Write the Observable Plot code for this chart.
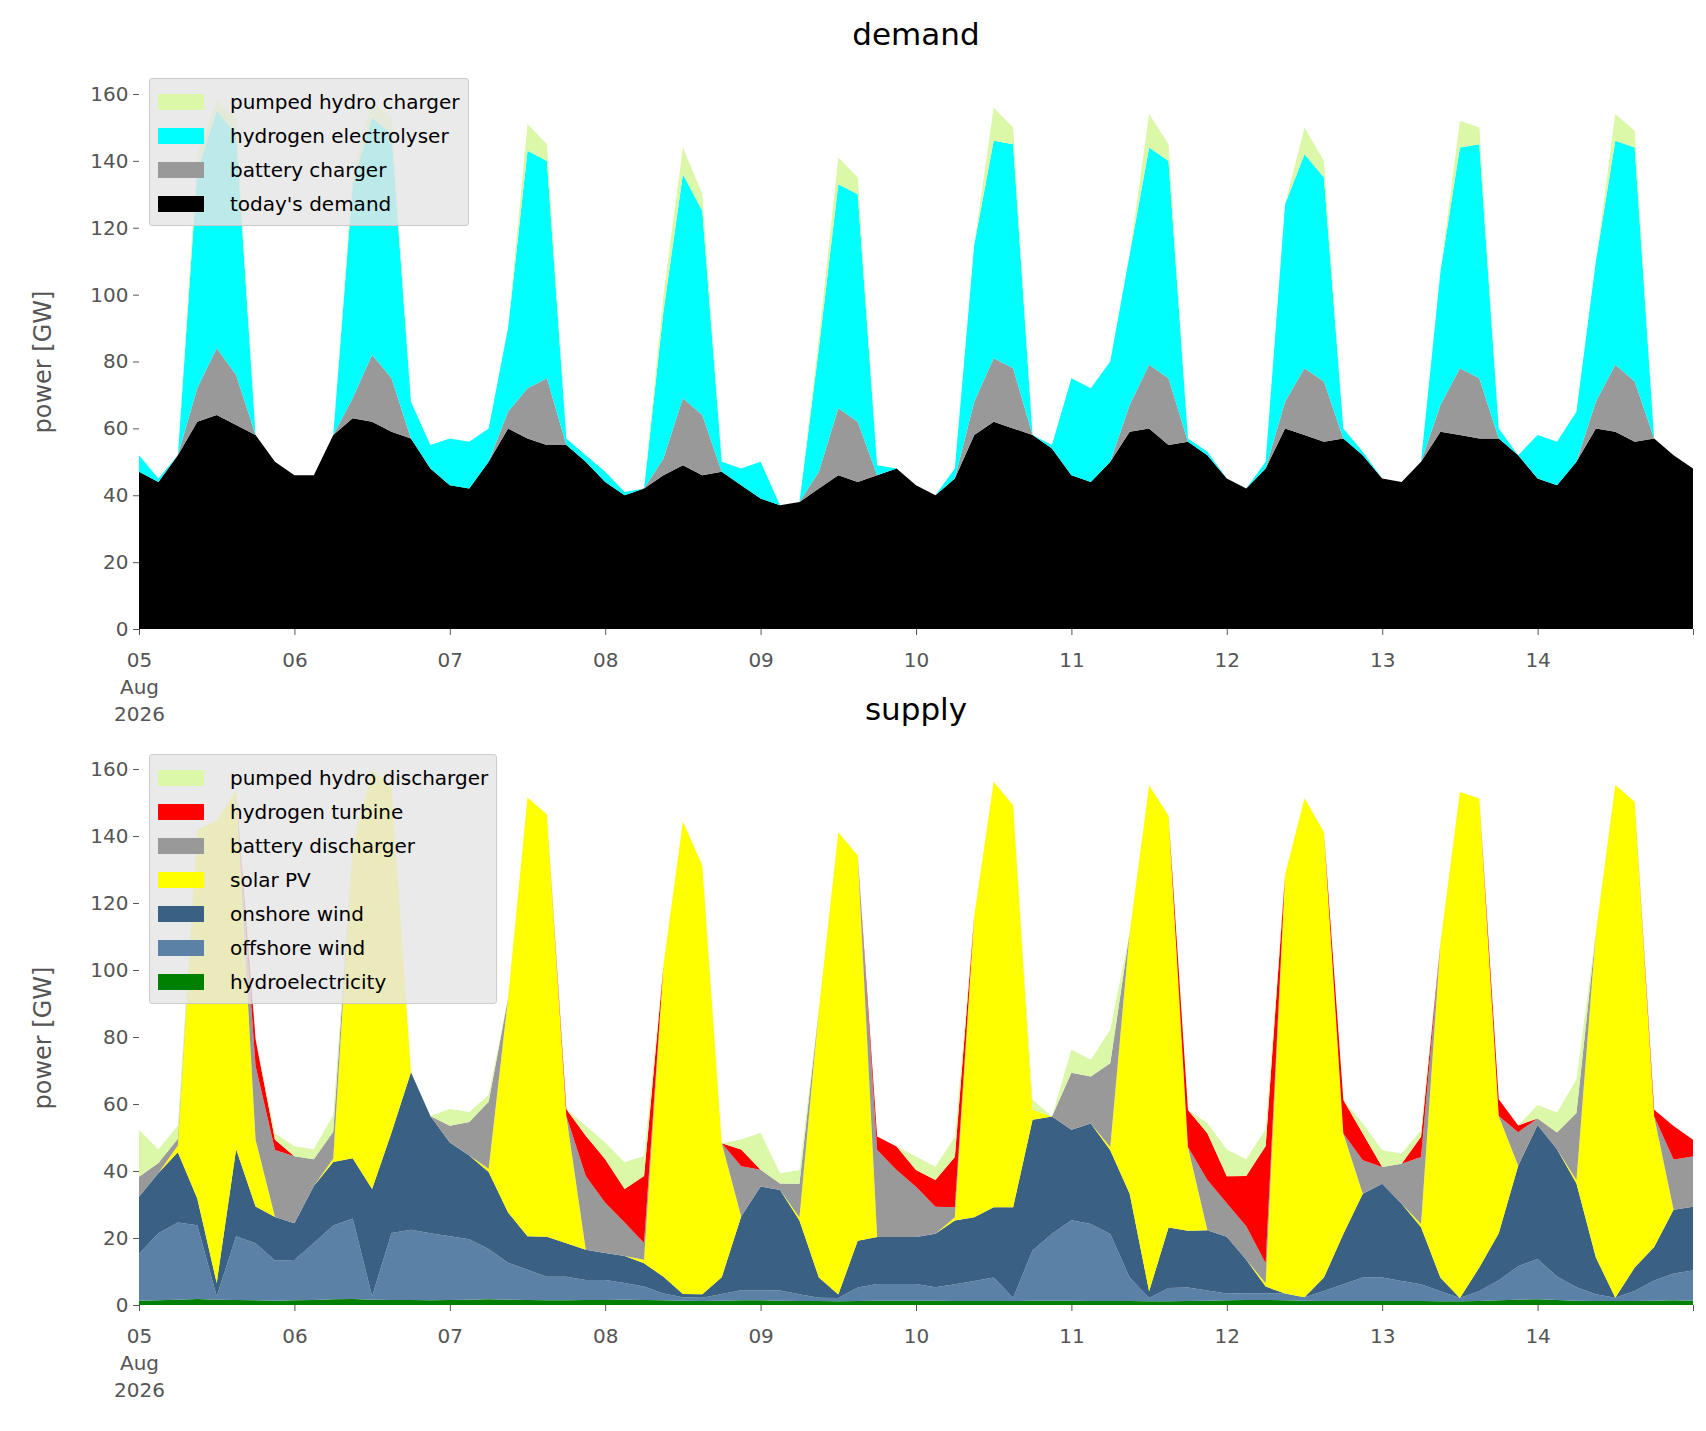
<!DOCTYPE html>
<html><head><meta charset="utf-8">
<script src="https://cdn.jsdelivr.net/npm/d3@7"></script>
<script src="https://cdn.jsdelivr.net/npm/@observablehq/plot@0.6"></script>
<style>
body{margin:0;background:#fff;font-family:"DejaVu Sans",sans-serif;}
#wrap{position:relative;width:1706px;height:1431px;overflow:hidden;}
.ttl{position:absolute;width:1554px;left:139px;text-align:center;font-size:31px;color:#000;}
.yl{position:absolute;font-size:24px;color:#555;transform:rotate(-90deg);transform-origin:center;white-space:nowrap;}
.leg{position:absolute;background:rgba(229,229,229,0.82);border:1px solid #ccc;border-radius:3px;padding:6px 8px 4px 8px;font-size:20px;color:#000;}
.leg div{display:flex;align-items:center;height:34px;}
.leg span.sw{display:inline-block;width:46px;height:16px;margin-right:26px;}
.plot{position:absolute;left:0;}
</style></head><body><div id="wrap"></div>
<script>
// 3-hourly samples: 05 Aug 00:00 ... 15 Aug 00:00 (81 values), 8 per day
const hydro = [1.3,1.4,1.6,1.8,1.6,1.5,1.4,1.3, 1.4,1.5,1.7,1.8,1.6,1.5,1.5,1.4, 1.5,1.6,1.7,1.6,1.5,1.4,1.4,1.5, 1.5,1.6,1.5,1.4,1.3,1.2,1.3,1.4, 1.4,1.3,1.2,1.2,1.1,1.2,1.3,1.3, 1.3,1.3,1.2,1.2,1.2,1.2,1.3,1.3, 1.3,1.2,1.2,1.2,1.1,1.1,1.2,1.3, 1.4,1.5,1.5,1.4,1.3,1.2,1.2,1.2, 1.2,1.2,1.2,1.1,1.1,1.2,1.4,1.6, 1.7,1.5,1.3,1.2,1.2,1.2,1.3,1.4, 1.3];
const offshore = [14,20,23,22,1,19,17,12, 12,17,22,24,1,20,21,20, 19,18,15,11,9,7,7,6, 6,5,4,2,1,1,2,3, 3,3,2,1,1,4,5,5, 5,4,5,6,7,1,15,20, 24,23,20,7,1,4,4,3, 2,2,2,2,1,3,5,7, 7,6,5,3,1,3,6,10, 12,7,4,2,1,3,6,8, 9];
const onshore = [17,18,21,8,4,26,11,13, 11,17,19,18,32,30,47,35, 28,25,23,15,10,12,10,9, 8,8,7,5,1,1,5,22, 31,30,22,6,1,14,14,14, 14,16,19,19,21,27,39,35, 27,30,25,25,2,18,17,18, 17,10,2,0,0,4,15,25, 28,23,17,4,0,7,14,30, 40,38,31,11,0,7,10,19, 19];
const solar = [0,0,2,110,138,107,20,0, 0,0,1,93,125,103,0,0, 0,0,1,64,131,126,38,0, 0,0,1,93,141,128,40,0, 0,0,1,80,138,115,0,0, 0,0,1,90,127,120,3,0, 0,0,1,78,151,123,25,0, 0,0,1,125,149,133,30,0, 0,0,1,100,151,140,35,0, 0,0,1,97,153,139,39,0, 0];
const batteryDis = [6,3,2,0,0,0,22,20, 20,8,8,0,0,0,0,0, 5,10,20,0,0,0,0,22, 15,10,5,0,0,0,0,15, 5,2,10,0,0,0,26,20, 15,8,3,0,0,0,0,0, 17,14,25,0,0,0,0,15, 10,10,6,0,0,0,0,10, 5,12,20,0,0,0,0,10, 2,5,20,0,0,0,0,15, 15];
const h2Turbine = [0,0,0,0,0,0,8,3, 0,0,0,0,0,0,0,0, 0,0,0,0,0,0,2,12, 13,10,20,0,0,0,0,5, 0,0,0,0,0,0,4,7, 5,8,15,0,0,0,0,0, 0,0,0,0,0,0,11,14, 8,15,35,0,0,0,10,8, 0,0,6,0,0,0,5,2, 0,0,0,0,0,0,2,10, 5];
const pumpedDis = [14,4,4,0,0,0,0,2, 3,3,5,0,0,0,0,0, 5,3,2,0,0,0,0,3, 5,8,6,0,0,0,0,3, 11,3,4,0,0,0,0,0, 4,4,6,0,0,0,3,0, 7,5,10,0,0,0,0,3, 8,5,5,0,0,0,0,3, 5,3,2,0,0,0,0,0, 4,6,10,0,0,0,0,0, 0];

const demandToday = [47,44,52,62,64,61,58,50, 46,46,58,63,62,59,57,48, 43,42,50,60,57,55,55,50, 44,40,42,46,49,46,47,43, 39,37,38,42,46,44,46,48, 43,40,45,58,62,60,58,54, 46,44,50,59,60,55,56,52, 45,42,48,60,58,56,57,52, 45,44,50,59,58,57,57,52, 45,43,50,60,59,56,57,52, 48];
const batteryChg = [0,0,0,10,20,15,0,0, 0,0,0,6,20,16,0,0, 0,0,0,5,15,20,0,0, 0,0,0,5,20,18,0,0, 0,0,0,5,20,18,0,0, 0,0,0,10,19,18,0,0, 0,0,0,8,19,20,0,0, 0,0,0,8,20,18,0,0, 0,0,0,8,20,18,0,0, 0,0,0,8,20,18,0,0, 0];
const electrolyser = [5,1,0,65,71,72,0,0, 0,0,0,64,71,73,11,7, 14,14,10,25,71,65,2,2, 3,1,0,44,67,61,3,5, 11,0,0,37,67,68,3,0, 0,0,3,47,65,67,0,1, 29,28,30,45,65,65,1,1, 0,0,2,59,64,61,3,1, 0,0,0,40,66,70,3,0, 13,13,15,42,67,70,0,0, 0];
const pumpedChg = [0,0,0,5,3,5,0,0, 0,0,0,3,5,5,0,0, 0,0,0,0,8,5,0,0, 0,0,0,5,8,5,0,0, 0,0,0,3,8,5,0,0, 0,0,0,0,10,5,0,0, 0,0,0,0,10,5,0,0, 0,0,0,0,8,5,0,0, 0,0,0,0,8,5,0,0, 0,0,0,0,8,5,0,0, 0];

const yTicks = [0,20,40,60,80,100,120,140,160];
const dayLabels = ["05\nAug\n2026","06","07","08","09","10","11","12","13","14",""];

const t0 = Date.UTC(2026,7,5);
const times = d3.range(81).map(i => new Date(t0 + i*3*3600e3));
const dayTicks = d3.range(11).map(i => new Date(t0 + i*24*3600e3));

const demandSeries = [
  ["today's demand", demandToday, "#000000"],
  ["battery charger", batteryChg, "#999999"],
  ["hydrogen electrolyser", electrolyser, "#00ffff"],
  ["pumped hydro charger", pumpedChg, "#dbf7a8"]
];
const supplySeries = [
  ["hydroelectricity", hydro, "#008000"],
  ["offshore wind", offshore, "#5b82a6"],
  ["onshore wind", onshore, "#3a6083"],
  ["solar PV", solar, "#ffff00"],
  ["battery discharger", batteryDis, "#999999"],
  ["hydrogen turbine", h2Turbine, "#ff0000"],
  ["pumped hydro discharger", pumpedDis, "#dbf7a8"]
];

function makePlot(series, H, mt, mb) {
  const rows = [];
  series.forEach(([name, vals]) => vals.forEach((v,i) => rows.push({t:times[i], v, s:name})));
  return Plot.plot({
    width:1706, height:H, marginLeft:139, marginRight:13, marginTop:mt, marginBottom:mb,
    style:{fontFamily:"DejaVu Sans", fontSize:"20px", color:"#555", background:"transparent"},
    x:{type:"utc", domain:[dayTicks[0], dayTicks[10]]},
    y:{domain:[0,160]},
    color:{domain:series.map(d=>d[0]), range:series.map(d=>d[2])},
    marks:[
      Plot.areaY(rows, {x:"t", y:"v", fill:"s", z:"s"}),
      Plot.axisY({ticks:yTicks, label:null, tickSize:6, stroke:"#555", fontSize:20, tickPadding:5}),
      Plot.axisX({ticks:dayTicks, tickFormat:(d,i)=>dayLabels[i], label:null, tickSize:6, stroke:"#555", fontSize:20, lineHeight:1.35, tickPadding:12})
    ]
  });
}

const wrap = document.getElementById("wrap");
function add(html){ wrap.insertAdjacentHTML("beforeend", html); }

const p1 = makePlot(demandSeries, 760, 94, 131);
p1.classList.add("plot"); p1.style.top = "0px"; wrap.appendChild(p1);
const p2 = makePlot(supplySeries, 751, 89, 126);
p2.classList.add("plot"); p2.style.top = "680px"; wrap.appendChild(p2);

add('<div class="ttl" style="top:16px">demand</div>');
add('<div class="ttl" style="top:691px">supply</div>');
add('<div class="yl" style="left:-28px;top:348px">power [GW]</div>');
add('<div class="yl" style="left:-28px;top:1024px">power [GW]</div>');

function legend(series, left, top){
  const items = series.slice().reverse().map(([n,_,c]) => `<div><span class="sw" style="background:${c}"></span>${n}</div>`).join("");
  add(`<div class="leg" style="left:${left}px;top:${top}px">${items}</div>`);
}
legend(demandSeries, 149, 78);
legend(supplySeries, 149, 754);
</script></body></html>
